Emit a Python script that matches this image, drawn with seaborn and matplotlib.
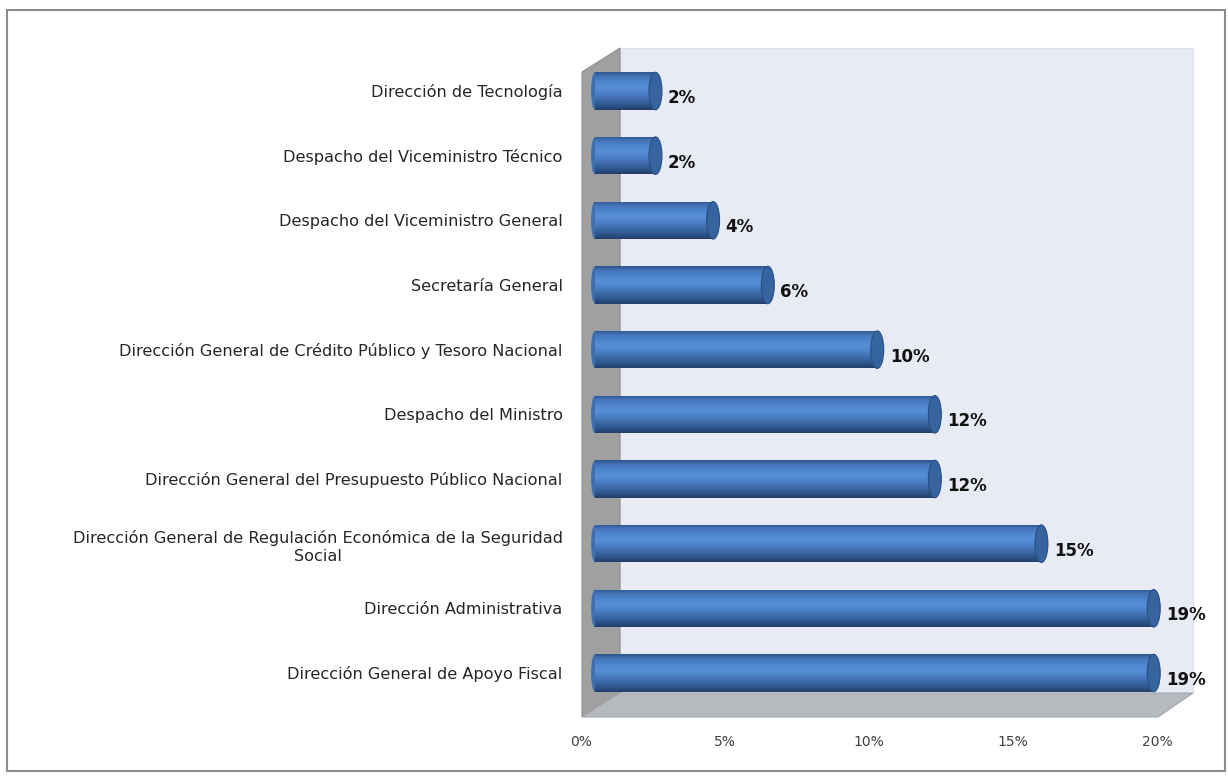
import numpy as np
import pandas as pd
import matplotlib
matplotlib.use("Agg")
import matplotlib.pyplot as plt
import seaborn as sns
from matplotlib.patches import Polygon, Rectangle, Ellipse
from matplotlib.transforms import ScaledTranslation

# ---------------- data ----------------
categories = [
    "Dirección de Tecnología",
    "Despacho del Viceministro Técnico",
    "Despacho del Viceministro General",
    "Secretaría General",
    "Dirección General de Crédito Público y Tesoro Nacional",
    "Despacho del Ministro",
    "Dirección General del Presupuesto Público Nacional",
    "Dirección General de Regulación Económica de la Seguridad\nSocial",
    "Dirección Administrativa",
    "Dirección General de Apoyo Fiscal",
]
values = [2.1, 2.1, 4.1, 6.0, 9.8, 11.8, 11.8, 15.5, 19.4, 19.4]
value_labels = ["2%", "2%", "4%", "6%", "10%", "12%", "12%", "15%", "19%", "19%"]
xticks = [0, 5, 10, 15, 20]
xtick_labels = ["0%", "5%", "10%", "15%", "20%"]

df = pd.DataFrame({"categoria": categories, "valor": values})

# ---------------- figure ----------------
W, H = 1228, 776
sns.set_theme(style="white")
plt.rcParams["font.family"] = ["DejaVu Sans"]
fig = plt.figure(figsize=(W / 100, H / 100), dpi=100)

def fx(px):
    return px / W

def fy(py):
    return 1 - py / H

# outer border
fig.add_artist(Rectangle((fx(7), fy(771)), fx(1225) - fx(7), fy(10) - fy(771),
                         transform=fig.transFigure, fill=False,
                         edgecolor="#8c8c8c", linewidth=1.5, zorder=-2))

# 3D-like walls (decoration)
back = Polygon([(fx(620), fy(48)), (fx(1193), fy(48)), (fx(1193), fy(693)), (fx(620), fy(693))],
               closed=True, transform=fig.transFigure, facecolor="#e8ebf4",
               edgecolor="#dde1ec", linewidth=0.8, zorder=-1)
side = Polygon([(fx(582), fy(72)), (fx(620), fy(48)), (fx(620), fy(693)), (fx(582), fy(717))],
               closed=True, transform=fig.transFigure, facecolor="#a0a0a0",
               edgecolor="#8f8f8f", linewidth=0.8, zorder=-1)
floor = Polygon([(fx(582), fy(717)), (fx(620), fy(693)), (fx(1193), fy(693)), (fx(1158), fy(717))],
                closed=True, transform=fig.transFigure, facecolor="#b6b9bd",
                edgecolor="#a5a8ac", linewidth=0.8, zorder=-1)
for p in (back, side, floor):
    fig.add_artist(p)

# axes placement (pixels)
ax_left, ax_right, ax_top, ax_bottom = 582, 1193, 48, 717
ax = fig.add_axes([fx(ax_left), fy(ax_bottom), fx(ax_right) - fx(ax_left), fy(ax_top) - fy(ax_bottom)])
ax.set_facecolor("none")

sns.barplot(data=df, x="valor", y="categoria", orient="h", color="#4a7fc4",
            width=0.58, ax=ax, saturation=1, linewidth=0)

px_per_unit = 28.8
x0_px = 595
xmin = -(x0_px - ax_left) / px_per_unit
xmax = (ax_right - x0_px) / px_per_unit
spacing = (673 - 91) / 9
ylim = (9 + (ax_bottom - 673) / spacing, -(91 - ax_top) / spacing)
ax.set_xlim(xmin, xmax)
ax.set_ylim(*ylim)

# cylinder shading
grad = np.array([0.0, 0.12, 0.3, 0.42, 0.55, 0.7, 0.85, 1.0])
cols = np.array([
    [0.18, 0.34, 0.56],
    [0.27, 0.46, 0.73],
    [0.32, 0.54, 0.82],
    [0.34, 0.56, 0.84],
    [0.30, 0.51, 0.78],
    [0.25, 0.43, 0.68],
    [0.19, 0.35, 0.57],
    [0.13, 0.25, 0.42],
])
n = 64
t = np.linspace(0, 1, n)
img = np.stack([np.interp(t, grad, cols[:, k]) for k in range(3)], axis=-1)[:, None, :]

cap_w = 13 / px_per_unit
for patch, lab in zip(ax.patches, value_labels):
    x0, y0 = patch.get_x(), patch.get_y()
    w, h = patch.get_width(), patch.get_height()
    im = ax.imshow(img, extent=[x0, x0 + w, y0 + h, y0], aspect="auto",
                   interpolation="bilinear", zorder=3)
    im.set_clip_path(patch)
    # rounded left end
    left = Ellipse((x0, y0 + h / 2), width=cap_w * 0.6, height=h,
                   facecolor="#3f6fae", edgecolor="none", zorder=2.9)
    ax.add_patch(left)
    # end cap
    cap = Ellipse((x0 + w, y0 + h / 2), width=cap_w, height=h,
                  facecolor="#36649e", edgecolor="#2a4f80", linewidth=0.8, zorder=4)
    ax.add_patch(cap)
    ax.annotate(lab, xy=(x0 + w, y0 + h / 2), xytext=(9, -5), textcoords="offset points",
                ha="left", va="center", fontsize=12, fontweight="bold", color="#111111",
                zorder=5)

ax.set_xlim(xmin, xmax)
ax.set_ylim(*ylim)

ax.set_xticks(xticks)
ax.set_xticklabels(xtick_labels)
ax.tick_params(axis="x", length=0, pad=13, labelsize=10, colors="#404040")
ax.tick_params(axis="y", length=0, pad=14, labelsize=11.6, colors="#262626")
for tl in ax.get_yticklabels():
    tl.set_multialignment("center")
    tl.set_linespacing(1.25)
off = ScaledTranslation(-14 / 100, 0, fig.dpi_scale_trans)
for tl in ax.get_xticklabels():
    tl.set_transform(tl.get_transform() + off)

ax.set_xlabel("")
ax.set_ylabel("")
for s in ax.spines.values():
    s.set_visible(False)
ax.grid(False)

fig.savefig("out.png", dpi=100)
